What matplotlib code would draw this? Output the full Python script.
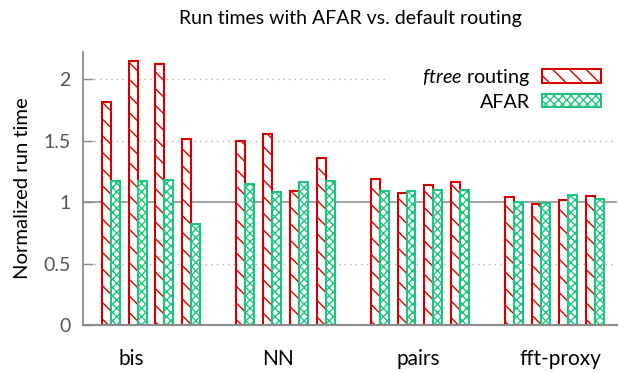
import numpy as np
import matplotlib
matplotlib.use('Agg')
import matplotlib.pyplot as plt

plt.rcParams['font.family'] = ['Lato', 'DejaVu Sans']
plt.rcParams['mathtext.fontset'] = 'custom'
plt.rcParams['mathtext.it'] = 'Lato:italic'
plt.rcParams['mathtext.rm'] = 'Lato'
plt.rcParams['hatch.linewidth'] = 1.0

# values
groups = ['bis', 'NN', 'pairs', 'fft-proxy']
ftree_bis = [1.815, 2.149, 2.119, 1.512]
ftree_nn = [1.50, 1.553, 1.092, 1.355]
ftree_pairs = [1.184, 1.073, 1.138, 1.165]
ftree_fft = [1.041, 0.986, 1.019, 1.052]
afar_bis = [1.173, 1.173, 1.180, 0.823]
afar_nn = [1.144, 1.078, 1.163, 1.173]
afar_pairs = [1.090, 1.086, 1.095, 1.095]
afar_fft = [0.997, 0.989, 1.054, 1.022]
yticks = [0, 0.5, 1, 1.5, 2]
ytick_labels = ['0', '0.5', '1', '1.5', '2']

ftree = np.array([ftree_bis, ftree_nn, ftree_pairs, ftree_fft])
afar = np.array([afar_bis, afar_nn, afar_pairs, afar_fft])

red = '#d40000'
green = '#1ec47f'
grey = '#8a8a8a'

n_groups, n_runs = ftree.shape
slot = 5  # 4 runs + 1 empty slot per group
w = 1 / 3
pos = (np.arange(n_groups)[:, None] * slot + np.arange(n_runs)[None, :]).ravel()

fig = plt.figure(figsize=(6.19, 3.72), dpi=100)
ax = fig.add_axes([83 / 619, 1 - 325 / 372, 534 / 619, 273 / 372])

# grid (dotted) and reference line at 1
for yv in [0.5, 1.5]:
    ax.axhline(yv, color='#b0b0b0', lw=1, ls=(0, (1, 3)), zorder=0)
ax.axhline(2, xmax=0.57, color='#b0b0b0', lw=1, ls=(0, (1, 3)), zorder=0)
ax.axhline(1, color='#9a9a9a', lw=1.3, zorder=0)

ax.bar(pos, ftree.ravel(), width=w, align='edge', facecolor='white',
       edgecolor=red, hatch='\\\\', lw=1.5, zorder=2,
       label=r'$\it{ftree}$ routing')
ax.bar(pos + w, afar.ravel(), width=w, align='edge', facecolor='white',
       edgecolor=green, hatch='xxxx', lw=1.5, zorder=2, label='AFAR')

ax.set_xlim(-0.695, 19.16)
ax.set_ylim(0, 2.22)

ax.spines['top'].set_visible(False)
ax.spines['right'].set_visible(False)
ax.spines['left'].set_color(grey)
ax.spines['bottom'].set_color(grey)
ax.spines['left'].set_linewidth(1.3)
ax.spines['bottom'].set_linewidth(1.5)

ax.set_yticks(yticks)
ax.set_yticklabels(ytick_labels)
ax.tick_params(axis='y', direction='in', length=7, width=1, color=grey,
               labelcolor='#555555', labelsize=14, pad=9)

# group labels sit a bit off the group centres, as in the original
label_x = [1.11, 6.54, 11.76, 17.04]
ax.set_xticks(label_x)
ax.set_xticklabels(groups)
ax.tick_params(axis='x', length=0, labelsize=15, pad=17)

ax.set_ylabel('Normalized run time', fontsize=14.6, labelpad=9)
ax.set_title('Run times with AFAR vs. default routing', fontsize=14, pad=20)

ax.legend(loc='upper right', bbox_to_anchor=(0.985, 0.975), frameon=False,
          markerfirst=False, fontsize=14.2, handlelength=3.0, handleheight=0.68,
          handletextpad=0.6, labelspacing=0.3, borderaxespad=0)

fig.savefig('out.png', dpi=100)
